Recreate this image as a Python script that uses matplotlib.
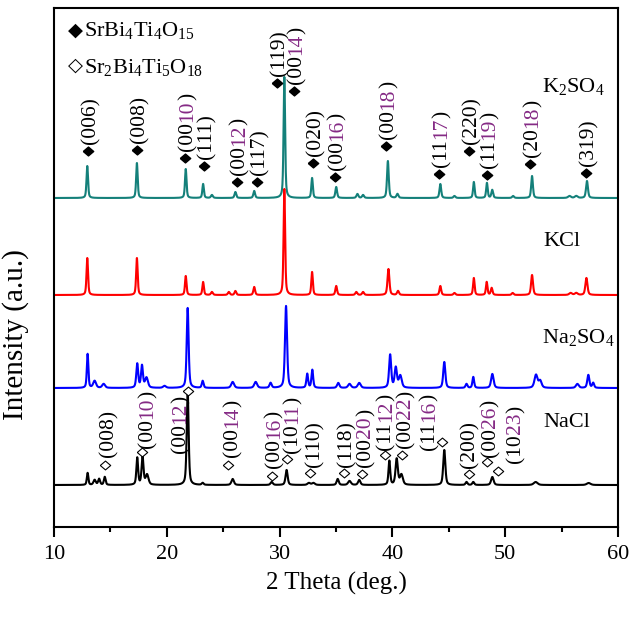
import numpy as np
import matplotlib
matplotlib.use('Agg')
import matplotlib.pyplot as plt

plt.rcParams['font.family'] = ['Liberation Serif', 'DejaVu Serif']
plt.rcParams['mathtext.fontset'] = 'custom'
plt.rcParams['mathtext.rm'] = 'Liberation Serif'
plt.rcParams['mathtext.it'] = 'Liberation Serif:italic'

# ---------------- data (2theta in deg, intensity in a.u.) ----------------
samples = ['K2SO4', 'KCl', 'Na2SO4', 'NaCl']
sample_labels = [r'$\mathregular{K_2SO_4}$', 'KCl', r'$\mathregular{Na_2SO_4}$', 'NaCl']
sample_offsets = [329, 232, 139, 42]

k2so4_pos = [12.95, 17.35, 21.68, 23.22, 24.0, 26.08, 27.75, 30.42, 32.88, 35.02, 36.9, 37.4,
             39.6, 40.45, 44.25, 45.5, 47.22, 48.38, 48.85, 50.7, 52.38, 55.7, 56.3, 57.25]
k2so4_int = [32, 35, 29, 14, 3, 6, 7, 121, 20, 11, 4, 3,
             37, 4, 14, 2, 16, 15, 8, 2, 22, 2, 2, 17]
k2so4_wid = [0.08, 0.08, 0.08, 0.08, 0.1, 0.09, 0.09, 0.08, 0.08, 0.09, 0.1, 0.1,
             0.09, 0.1, 0.09, 0.1, 0.08, 0.08, 0.09, 0.1, 0.09, 0.15, 0.15, 0.1]

kcl_pos = [12.95, 17.35, 21.68, 23.22, 24.0, 25.5, 26.08, 27.75, 30.42, 32.88, 35.02, 36.8, 37.4,
           39.65, 40.5, 44.25, 45.5, 47.22, 48.36, 48.8, 50.66, 52.38, 55.8, 56.3, 57.2]
kcl_int = [37, 37, 19, 13, 3, 3, 4, 8, 106, 23, 9, 3, 3,
           26, 4, 9, 2, 17, 13, 7, 2, 20, 2, 2, 17]
kcl_wid = [0.08, 0.08, 0.08, 0.08, 0.1, 0.1, 0.09, 0.09, 0.08, 0.08, 0.09, 0.1, 0.1,
           0.1, 0.1, 0.09, 0.1, 0.08, 0.08, 0.09, 0.1, 0.1, 0.15, 0.15, 0.11]

na2so4_pos = [12.98, 13.6, 14.4, 17.38, 17.8, 18.2, 19.8, 21.85, 23.18, 25.84, 27.88, 29.2,
              30.57, 32.45, 32.9, 35.2, 36.2, 37.06, 39.8, 40.3, 40.7, 44.6, 46.57, 47.17,
              48.86, 52.73, 53.1, 56.4, 57.37, 57.8]
na2so4_int = [34, 7, 4, 24, 22, 10, 2, 80, 7, 6, 6, 5,
              82, 14, 18, 5, 4, 5, 33, 20, 12, 26, 4, 11,
              14, 13, 7, 4, 13, 5]
na2so4_wid = [0.08, 0.15, 0.15, 0.1, 0.1, 0.15, 0.15, 0.1, 0.09, 0.15, 0.15, 0.11,
              0.11, 0.09, 0.09, 0.12, 0.15, 0.15, 0.11, 0.12, 0.15, 0.11, 0.1, 0.09,
              0.13, 0.16, 0.15, 0.15, 0.11, 0.1]

nacl_pos = [12.98, 13.6, 14.0, 14.5, 17.38, 17.85, 18.25, 21.85, 23.18, 25.84, 29.3, 30.62,
            32.6, 33.0, 35.15, 36.2, 37.06, 39.73, 40.38, 40.8, 44.6, 46.57, 47.17, 48.86,
            52.7, 57.4]
nacl_int = [12, 5, 6, 8, 27, 28, 10, 94, 2, 6, 3, 15,
            2, 2, 6, 4, 5, 24, 26, 10, 35, 3, 3, 8,
            3, 2]
nacl_wid = [0.08, 0.12, 0.1, 0.09, 0.09, 0.1, 0.15, 0.1, 0.1, 0.13, 0.12, 0.11,
            0.15, 0.15, 0.11, 0.15, 0.12, 0.09, 0.12, 0.15, 0.11, 0.1, 0.1, 0.13,
            0.2, 0.2]

# SrBi4Ti4O15 reflections (filled diamonds) on K2SO4 pattern
sbt4_labels = ['(006)', '(008)', '(0010)', '(111)', '(0012)', '(117)', '(119)', '(0014)',
               '(020)', '(0016)', '(0018)', '(1117)', '(220)', '(1119)', '(2018)', '(319)']
sbt4_pos = [12.99, 17.38, 21.61, 23.30, 26.2, 27.97, 29.74, 31.28,
            32.96, 34.9, 39.43, 44.13, 46.82, 48.41, 52.2, 57.14]
sbt4_mark = [376, 377, 369, 361, 345, 345, 444, 436, 364, 350, 381, 353, 376, 352, 363, 354]

# Sr2Bi4Ti5O18 reflections (open diamonds) on NaCl pattern
sbt5_labels = ['(008)', '(0010)', '(0012)', '(0014)', '(0016)', '(1011)', '(110)', '(118)',
               '(0020)', '(1112)', '(0022)', '(1116)', '(200)', '(0026)', '(1023)']
sbt5_pos = [14.52, 17.77, 21.85, 25.43, 29.3, 30.66, 32.7, 35.7,
            37.28, 39.34, 40.82, 44.37, 46.79, 48.39, 49.33]
sbt5_mark = [62, 75, 136, 62, 51, 68, 54, 54, 53, 72, 72, 85, 53, 65, 56]
sbt5_text_x = [14.6, 18.07, 21.0, 25.6, 29.3, 30.92, 32.85, 35.7,
               37.4, 39.2, 40.95, 43.04, 46.65, 48.45, 50.69]
sbt5_text_y = [70, 79, 74, 70, 59, 74, 60, 60, 60, 77, 79, 77, 59, 70, 64]

colors = ['#14807a', '#ff0000', '#0000ff', '#000000']
purple = '#852a85'

# ---------------- figure ----------------
W, H, DPI = 635, 617, 100
fig = plt.figure(figsize=(W / DPI, H / DPI), dpi=DPI)
ax = fig.add_axes([54 / W, 1 - 527 / H, (618 - 54) / W, (527 - 8) / H])
ax.set_xlim(10, 60)
ax.set_ylim(0, 519)

x = np.linspace(10, 60, 5001)


def pattern(pos, inten, wid):
    y = np.zeros_like(x)
    for c, h, w in zip(pos, inten, wid):
        d = ((x - c) / w) ** 2
        y += h * (0.5 / (1 + d) + 0.5 * np.exp(-np.log(2) * d))
    return y


series = [(k2so4_pos, k2so4_int, k2so4_wid), (kcl_pos, kcl_int, kcl_wid),
          (na2so4_pos, na2so4_int, na2so4_wid), (nacl_pos, nacl_int, nacl_wid)]
for (p, i, w), off, col in zip(series, sample_offsets, colors):
    ax.plot(x, pattern(p, i, w) + off, color=col, lw=1.5, zorder=2)

# sample names
name_pos = [(53.26, 435), (53.35, 281), (53.26, 184), (53.35, 100)]
for lab, (tx, ty) in zip(sample_labels, name_pos):
    ax.text(tx, ty, lab, fontsize=16, ha='left', va='baseline')

diamond = [(-1, 0), (0, 0.85), (1, 0), (0, -0.85), (-1, 0)]
renderer = fig.canvas.get_renderer()
FS = 15.5
cap_px = FS * DPI / 72 * 0.34


def split_label(s):
    inner = s[1:-1]
    if len(inner) == 4:
        return [('(' + inner[:2], 'black'), (inner[2:], purple), (')', 'black')]
    return [(s, 'black')]


def vlabel(tx, ty, s):
    off = 0.0
    for part, col in split_label(s):
        t = ax.annotate(part, xy=(tx, ty), xycoords='data', xytext=(cap_px, off),
                        textcoords='offset pixels', rotation=90, rotation_mode='anchor',
                        ha='left', va='baseline', fontsize=FS, color=col, zorder=5,
                        annotation_clip=False)
        bb = t.get_window_extent(renderer)
        off += bb.height


for lab, px, my in zip(sbt4_labels, sbt4_pos, sbt4_mark):
    ax.plot(px, my, marker=diamond, ms=7.5, color='black', mec='black', zorder=4)
    vlabel(px, my + 7, lab)

for lab, px, my, tx, ty in zip(sbt5_labels, sbt5_pos, sbt5_mark, sbt5_text_x, sbt5_text_y):
    ax.plot(px, my, marker=diamond, ms=7.5, mfc='white', mec='black', mew=0.8, zorder=4)
    vlabel(tx, ty, lab)

# legend
ax.text(0.025, 0.957, '\u25c6', transform=ax.transAxes, fontsize=14, family='DejaVu Sans',
        ha='left', va='center')
ax.text(0.053, 0.957, r'$\mathregular{SrBi_4Ti_4O_{15}}$', transform=ax.transAxes,
        fontsize=16, ha='left', va='center')
ax.text(0.025, 0.89, '\u25c7', transform=ax.transAxes, fontsize=14, family='DejaVu Sans',
        ha='left', va='center')
ax.text(0.053, 0.885, r'$\mathregular{Sr_2Bi_4Ti_5O_{18}}$', transform=ax.transAxes,
        fontsize=16, ha='left', va='center')

# axes styling
for sp in ax.spines.values():
    sp.set_linewidth(1.5)
ax.set_xticks([10, 20, 30, 40, 50, 60])
ax.set_xticks([15, 25, 35, 45, 55], minor=True)
ax.tick_params(axis='x', which='major', direction='out', length=7, width=1.5, labelsize=16, pad=6)
ax.tick_params(axis='x', which='minor', direction='out', length=3.6, width=1.5)
ax.set_yticks([])
ax.set_xlabel('2 Theta (deg.)', fontsize=18, labelpad=6)
ax.set_ylabel('Intensity (a.u.)', fontsize=21)
ax.yaxis.set_label_coords(-0.045, 0.37)

fig.savefig('out.png', dpi=DPI)
